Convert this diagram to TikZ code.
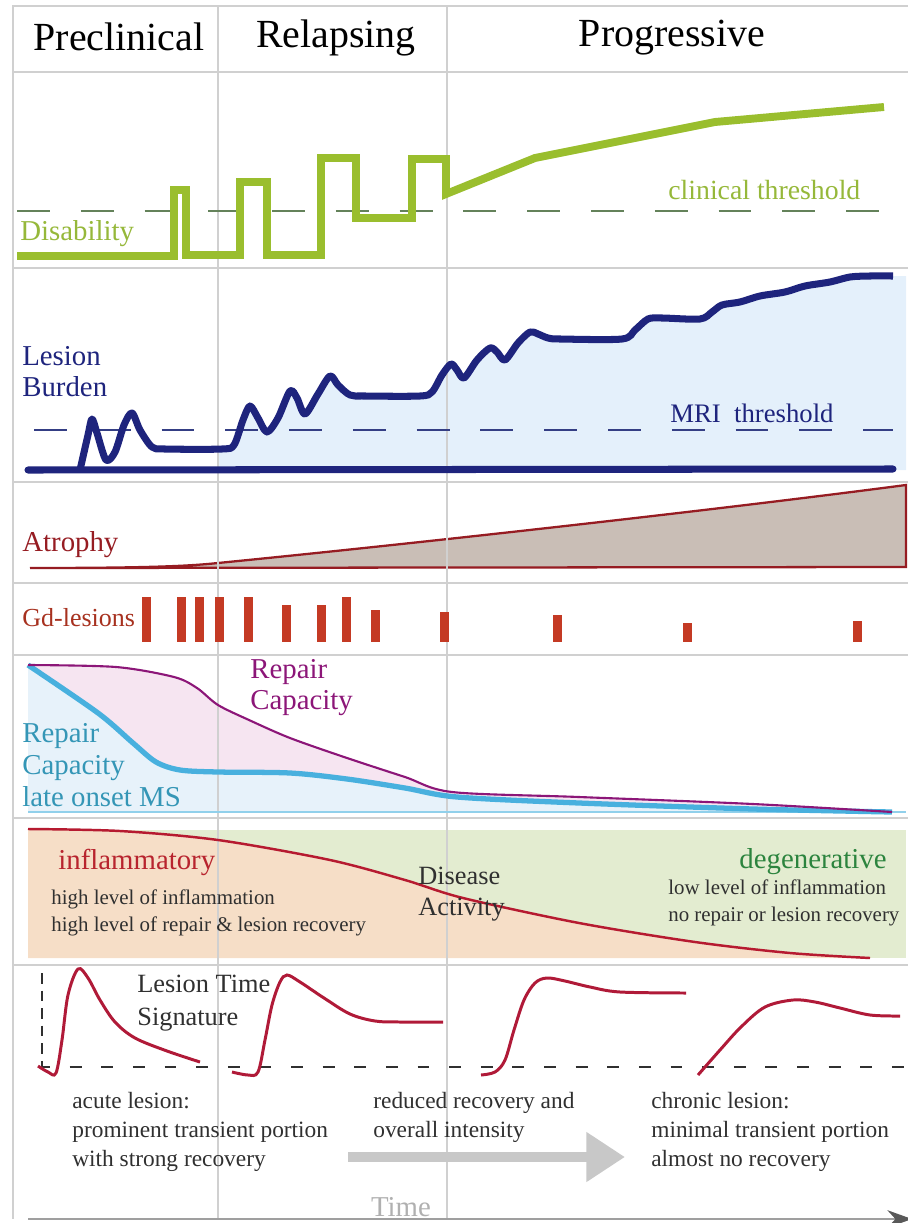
\documentclass[tikz,border=0pt]{standalone}
\usepackage{fontspec}
\setmainfont{Liberation Serif}
\usetikzlibrary{arrows.meta}
\definecolor{gridgray}{RGB}{208,208,208}
\definecolor{disgreen}{RGB}{154,190,46}
\definecolor{disdash}{RGB}{100,130,90}
\definecolor{distext}{RGB}{150,184,58}
\definecolor{lesblue}{RGB}{30,36,125}
\definecolor{lesdash}{RGB}{52,62,132}
\definecolor{lesfill}{RGB}{228,240,251}
\definecolor{atred}{RGB}{150,28,34}
\definecolor{atfill}{RGB}{201,190,182}
\definecolor{gdred}{RGB}{196,58,36}
\definecolor{reppurple}{RGB}{140,22,120}
\definecolor{repcyan}{RGB}{72,176,222}
\definecolor{reptext}{RGB}{52,150,182}
\definecolor{reppink}{RGB}{246,229,241}
\definecolor{repfill}{RGB}{231,242,250}
\definecolor{degfill}{RGB}{227,236,208}
\definecolor{infill}{RGB}{246,222,199}
\definecolor{actred}{RGB}{182,26,48}
\definecolor{infred}{RGB}{184,36,46}
\definecolor{deggreen}{RGB}{44,132,62}
\definecolor{sigred}{RGB}{176,26,56}
\definecolor{notegray}{RGB}{48,48,48}
\definecolor{timegray}{RGB}{176,176,176}
\definecolor{arrowgray}{RGB}{200,200,200}

\newcommand{\lesionpath}{plot[smooth, tension=0.5] coordinates {(80,470) (88,435) (92,419) (97,433) (106,460) (115,452) (124,425) (132,413) (140,430) (152,447) (165,449) (222,449) (234,445) (243,420) (250,406) (258,418) (267,432) (278,418) (290,391) (297,398) (305,414) (318,394) (330,376) (338,385) (350,395) (365,396) (420,396) (432,392) (442,375) (451,364) (457,370) (464,378) (477,360) (490,348) (497,352) (505,360) (518,343) (530,332) (538,334) (548,338) (560,339) (622,339) (635,330) (648,319) (662,318) (700,319) (712,312) (722,305) (740,302) (760,296) (785,292) (805,286) (830,282) (850,277) (870,276) (893,276)}}
\newcommand{\purplepath}{plot[smooth] coordinates {(28,665) (116,667) (174,677) (197,688) (218,705) (249,720) (290,738) (347,758) (405,777) (452,792) (579,797) (753,804) (892,812)}}
\newcommand{\cyanpath}{plot[smooth] coordinates {(28,665) (98,713) (133,743) (156,762) (180,770) (218,772) (290,773) (347,779) (405,788) (457,797) (579,803) (753,809) (892,812)}}
\newcommand{\activitypath}{plot[smooth] coordinates {(28,829) (120,831) (218,840) (330,860) (405,880) (463,898) (579,923) (695,942) (790,953) (870,958)}}

\begin{document}
\begin{tikzpicture}[x=0.02cm, y=-0.02cm,
  gridline/.style={draw=gridgray, line width=0.8pt},
  header/.style={anchor=center, inner sep=0pt, font=\fontsize{22.7}{26}\selectfont},
  panellabel/.style={anchor=west, inner sep=0pt, align=left, font=\fontsize{16.4}{17.6}\selectfont},
  smallnote/.style={anchor=west, inner sep=0pt, align=left, text=notegray, font=\fontsize{11.9}{15.3}\selectfont},
  caption/.style={anchor=west, inner sep=0pt, align=left, text=notegray, font=\fontsize{13.3}{16.4}\selectfont},
  threshold/.style={line width=1.6pt, dash pattern=on 18.7pt off 17.6pt},
  sigcurve/.style={draw=sigred, line width=1.7pt, smooth, tension=0.55}]
  \useasboundingbox (0,0) rectangle (908,1223);

  % Fills
  \begin{scope}
    \clip (218,250) rectangle (906,471);
    \fill[lesfill] \lesionpath -- (906,276) -- (906,470) -- cycle;
  \end{scope}
  \draw[atred, line width=1.3pt, fill=atfill] (30,568) .. controls (150,568) and (190,566) .. (218,563)
    .. controls (400,545) and (700,512) .. (906,485) -- (906,567) -- cycle;
  \fill[reppink] \purplepath -- (28,812) -- cycle;
  \fill[repfill] \cyanpath -- (28,812) -- cycle;
  \fill[degfill] (28,830) rectangle (906,958);
  \fill[infill] \activitypath -- (28,958) -- cycle;

  % Grid
  \draw[gridline] (908,6) -- (13,6) -- (13,1219);
  \foreach \y in {72, 268, 482, 583, 655, 818, 965}
    \draw[gridline] (13,\y) -- (908,\y);
  \draw[gridline] (218,6) -- (218,1219);
  \draw[gridline] (447,6) -- (447,1219);

  % Phases
  \node[header] (hdpre) at (119,37) {Preclinical};
  \node[header] (hdrel) at (336,38) {Relapsing};
  \node[header] (hdprog) at (672,38) {Progressive};

  % Disability
  \draw[disdash, threshold] (17,211) -- (884,211);
  \draw[disgreen, line width=4.5pt, line join=miter] (17,256) -- (174,256) -- (174,190) -- (186,190) -- (186,255)
    -- (240,255) -- (240,182) -- (267,182) -- (267,255) -- (321,255) -- (321,158) -- (356,158) -- (356,218)
    -- (412,218) -- (412,159) -- (446,159) -- (446,194) -- (535,158) -- (715,122) -- (884,107);
  \node[panellabel, text=distext] (lbldis) at (20,234) {Disability};
  \node[panellabel, text=distext, font=\fontsize{15.8}{17}\selectfont] (lblthr) at (668,190) {clinical threshold};

  % Lesion burden
  \draw[lesdash, threshold] (34,430) -- (893,430);
  \draw[lesblue, line width=4pt, line cap=round] (28,470) -- (893,469);
  \draw[lesblue, line width=4pt, line join=round] \lesionpath;
  \node[panellabel, text=lesblue] (lbllesion) at (22,372) {Lesion\\Burden};
  \node[panellabel, text=lesblue, font=\fontsize{15.2}{17}\selectfont] (lblmri) at (670,413) {MRI\ \ threshold};

  % Atrophy
  \node[panellabel, text=atred] (lblatrophy) at (22,545) {Atrophy};

  % Gd-lesions
  \foreach \x/\t in {146/597, 181/597, 199/597, 219/597, 248/597, 286/605, 321/605, 346/597,
                     375/610, 444/612, 557/615, 687/623, 857/621}
    \fill[gdred] (\x-4.5,\t) rectangle (\x+4.5,642);
  \node[panellabel, text=gdred!85!black, font=\fontsize{14.8}{17}\selectfont] (lblgd) at (22,618) {Gd-lesions};

  % Repair capacity
  \draw[repcyan!60!white, line width=1.2pt] (28,812) -- (906,812);
  \draw[repcyan, line width=3pt] \cyanpath;
  \draw[reppurple, line width=1.2pt] \purplepath;
  \node[panellabel, text=reppurple] (lblrepair) at (250,688) {Repair\\Capacity};
  \node[panellabel, text=reptext, font=\fontsize{16.4}{18.1}\selectfont] (lblrepairlate) at (22,765) {Repair\\Capacity\\late onset MS};

  % Disease activity
  \draw[actred, line width=1.4pt] \activitypath;
  \node[panellabel, text=infred] (lblinfl) at (58,862) {inflammatory};
  \node[smallnote] (lblinflnote) at (51,913) {high level of inflammation\\high level of repair \& lesion recovery};
  \node[panellabel, text=notegray, font=\fontsize{15}{18}\selectfont] (lblactivity) at (418,894) {Disease\\Activity};
  \node[panellabel, anchor=east, text=deggreen] (lbldeg) at (887,862) {degenerative};
  \node[smallnote] (lbldegnote) at (668,903) {low level of inflammation\\no repair or lesion recovery};

  % Lesion time signature
  \draw[notegray, line width=1.1pt, dash pattern=on 6.8pt off 11.2pt] (38,1067) -- (905,1067);
  \draw[notegray, line width=1pt, dash pattern=on 6pt off 4pt] (42,973) -- (42,1067);
  \draw[sigcurve] plot coordinates {(38,1066) (48,1072) (56,1073) (62,1040) (68,995) (78,969) (88,978) (100,1000)
    (115,1022) (135,1038) (167,1051) (200,1062)};
  \draw[sigcurve] plot coordinates {(232,1072) (248,1075) (258,1072) (265,1040) (272,1005) (280,982) (287,975)
    (300,982) (324,998) (350,1014) (375,1021) (400,1022) (443,1022)};
  \draw[sigcurve] plot coordinates {(481,1075) (495,1072) (505,1060) (514,1030) (524,1000) (535,983) (547,978)
    (565,981) (590,987) (620,992) (686,993)};
  \draw[sigcurve] plot coordinates {(698,1075) (720,1050) (741,1027) (765,1007) (793,1000) (815,1002) (840,1008)
    (870,1015) (900,1016)};
  \node[panellabel, text=notegray, font=\fontsize{15}{18.7}\selectfont] (lblsig) at (137,1003) {Lesion Time\\Signature};

  \node[caption] (noteacute) at (72,1132) {acute lesion:\\prominent transient portion\\with strong recovery};
  \node[caption] (notereduced) at (373,1117) {reduced recovery and\\overall intensity};
  \node[caption] (notechronic) at (651,1132) {chronic lesion:\\minimal transient portion\\almost no recovery};

  \coordinate (tstart) at (348,1157);
  \coordinate (tend) at (625,1157);
  \draw[arrowgray, line width=5.7pt, -{Triangle[length=22pt, width=27pt]}] (tstart) -- (tend);

  % Time axis
  \node[panellabel, anchor=center, text=timegray] (lbltime) at (401,1207) {Time};
  \coordinate (axstart) at (28,1219);
  \coordinate (axend) at (912,1219);
  \draw[gray!75, line width=1.2pt, -{Stealth[length=14pt, width=10pt, color=gray!70!black]}] (axstart) -- (axend);
\end{tikzpicture}
\end{document}
